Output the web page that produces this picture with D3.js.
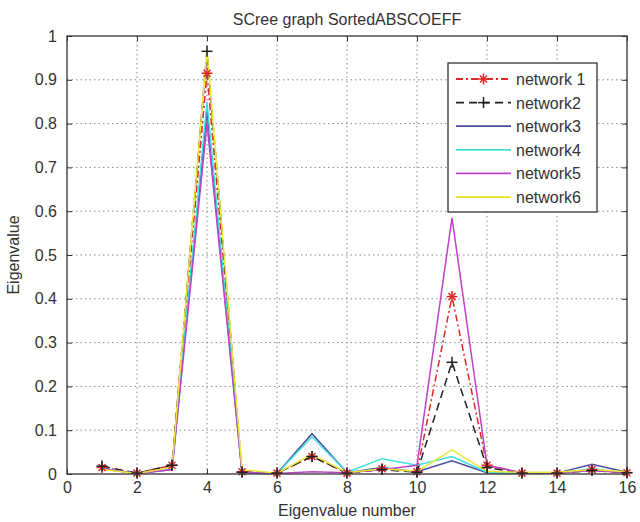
<!DOCTYPE html>
<html><head><meta charset="utf-8">
<script src="https://cdn.jsdelivr.net/npm/d3@7"></script>
<style>body{margin:0;background:#fff}</style>
</head><body>
<svg id="c" width="640" height="522"></svg>
<script>
const eigNumbers = [1,2,3,4,5,6,7,8,9,10,11,12,13,14,15,16];
const seriesNames = ["network 1","network2","network3","network4","network5","network6"];
const network1 = [0.015,0.002,0.02,0.915,0.005,0.002,0.04,0.002,0.012,0.005,0.405,0.02,0.002,0.002,0.01,0.003];
const network2 = [0.018,0.002,0.02,0.965,0.004,0.002,0.04,0.002,0.01,0.004,0.255,0.015,0.002,0.002,0.008,0.003];
const network3 = [0.012,0.001,0.01,0.83,0.003,0.001,0.092,0.003,0.015,0.005,0.03,0.003,0.002,0.002,0.022,0.004];
const network4 = [0.012,0.001,0.012,0.85,0.003,0.001,0.085,0.004,0.035,0.02,0.04,0.004,0.002,0.002,0.012,0.003];
const network5 = [0.012,0.001,0.01,0.80,0.004,0.001,0.005,0.003,0.01,0.02,0.585,0.02,0.003,0.002,0.008,0.003];
const network6 = [0.01,0.001,0.015,0.97,0.01,0.002,0.045,0.003,0.012,0.006,0.055,0.006,0.004,0.004,0.01,0.005];
const xTicks = [0,2,4,6,8,10,12,14,16];
const yTicks = [0,0.1,0.2,0.3,0.4,0.5,0.6,0.7,0.8,0.9,1];
const allSeries = [network1,network2,network3,network4,network5,network6];

const styles = [
  {color:"#e02828", dash:"7,3,2,3", marker:"star"},
  {color:"#202020", dash:"8,5", marker:"plus"},
  {color:"#4a4aa0", dash:null, marker:null},
  {color:"#3ee0e0", dash:null, marker:null},
  {color:"#c040c8", dash:null, marker:null},
  {color:"#e8e838", dash:null, marker:null}
];

const svg = d3.select("#c");
const L=67, R=627, T=36, B=474;
const x = d3.scaleLinear().domain([0,16]).range([L,R]);
const y = d3.scaleLinear().domain([0,1]).range([B,T]);
const font = "Liberation Sans, Arial, sans-serif";
const fs = "16px";

svg.append("rect").attr("width",640).attr("height",522).attr("fill","#fff");

// grid
const g = svg.append("g");
g.selectAll(".gx").data(xTicks.slice(1,-1)).enter().append("line")
  .attr("x1",d=>x(d)).attr("x2",d=>x(d)).attr("y1",T).attr("y2",B)
  .attr("stroke","#888").attr("stroke-width",1).attr("stroke-dasharray","1.5,3");
g.selectAll(".gy").data(yTicks.slice(1,-1)).enter().append("line")
  .attr("y1",d=>y(d)).attr("y2",d=>y(d)).attr("x1",L).attr("x2",R)
  .attr("stroke","#888").attr("stroke-width",1).attr("stroke-dasharray","1.5,3");

// series
const line = d3.line().x((d,i)=>x(eigNumbers[i])).y(d=>y(d));
allSeries.forEach((s,k)=>{
  const st = styles[k];
  svg.append("path").datum(s).attr("d",line).attr("fill","none")
    .attr("stroke",st.color).attr("stroke-width",1.5)
    .attr("stroke-dasharray",st.dash);
});
function drawMarker(sel, type, color, cx, cy){
  const s=5.5;
  sel.append("line").attr("x1",cx-s).attr("x2",cx+s).attr("y1",cy).attr("y2",cy).attr("stroke",color).attr("stroke-width",1.5);
  sel.append("line").attr("x1",cx).attr("x2",cx).attr("y1",cy-s).attr("y2",cy+s).attr("stroke",color).attr("stroke-width",1.5);
  if(type==="star"){
    const t=3.5;
    sel.append("line").attr("x1",cx-t).attr("x2",cx+t).attr("y1",cy-t).attr("y2",cy+t).attr("stroke",color).attr("stroke-width",1.5);
    sel.append("line").attr("x1",cx-t).attr("x2",cx+t).attr("y1",cy+t).attr("y2",cy-t).attr("stroke",color).attr("stroke-width",1.5);
  }
}
allSeries.forEach((s,k)=>{
  const st=styles[k];
  if(!st.marker) return;
  const mg=svg.append("g");
  s.forEach((v,i)=>drawMarker(mg,st.marker,st.color,x(eigNumbers[i]),y(v)));
});

// box
svg.append("rect").attr("x",L).attr("y",T).attr("width",R-L).attr("height",B-T)
  .attr("fill","none").attr("stroke","#333").attr("stroke-width",1.3);

// axes
const xa = svg.append("g").attr("transform",`translate(0,${B})`)
  .call(d3.axisBottom(x).tickValues(xTicks).tickSizeInner(-5).tickSizeOuter(0).tickPadding(8));
const xa2 = svg.append("g").attr("transform",`translate(0,${T})`)
  .call(d3.axisTop(x).tickValues(xTicks).tickSizeInner(-5).tickSizeOuter(0).tickFormat(""));
const ya = svg.append("g").attr("transform",`translate(${L},0)`)
  .call(d3.axisLeft(y).tickValues(yTicks).tickSizeInner(-5).tickSizeOuter(0).tickPadding(10).tickFormat(d=>d===0?"0":d===1?"1":d3.format(".1f")(d)));
const ya2 = svg.append("g").attr("transform",`translate(${R},0)`)
  .call(d3.axisRight(y).tickValues(yTicks).tickSizeInner(-5).tickSizeOuter(0).tickFormat(""));
[xa,xa2,ya,ya2].forEach(a=>{
  a.select(".domain").remove();
  a.selectAll("line").attr("stroke","#333");
  a.selectAll("text").attr("fill","#333").style("font-family",font).style("font-size",fs);
});

// titles
svg.append("text").attr("x",(L+R)/2).attr("y",25).attr("text-anchor","middle")
  .style("font-family",font).style("font-size",fs).attr("fill","#333").text("SCree graph SortedABSCOEFF");
svg.append("text").attr("x",(L+R)/2).attr("y",516).attr("text-anchor","middle")
  .style("font-family",font).style("font-size",fs).attr("fill","#333").text("Eigenvalue number");
svg.append("text").attr("transform",`translate(19,${(T+B)/2}) rotate(-90)`).attr("text-anchor","middle")
  .style("font-family",font).style("font-size",fs).attr("fill","#333").text("Eigenvalue");

// legend
const lg = svg.append("g");
lg.append("rect").attr("x",448).attr("y",63).attr("width",149).attr("height",149)
  .attr("fill","#fff").attr("stroke","#333").attr("stroke-width",1.3);
seriesNames.forEach((n,k)=>{
  const st=styles[k];
  const yy = 79 + k*23.6;
  lg.append("line").attr("x1",456).attr("x2",511).attr("y1",yy).attr("y2",yy)
    .attr("stroke",st.color).attr("stroke-width",1.8).attr("stroke-dasharray",st.dash);
  if(st.marker) drawMarker(lg,st.marker,st.color,483.5,yy);
  lg.append("text").attr("x",516).attr("y",yy+6).style("font-family",font).style("font-size",fs)
    .attr("fill","#333").text(n);
});
</script>
</body></html>
